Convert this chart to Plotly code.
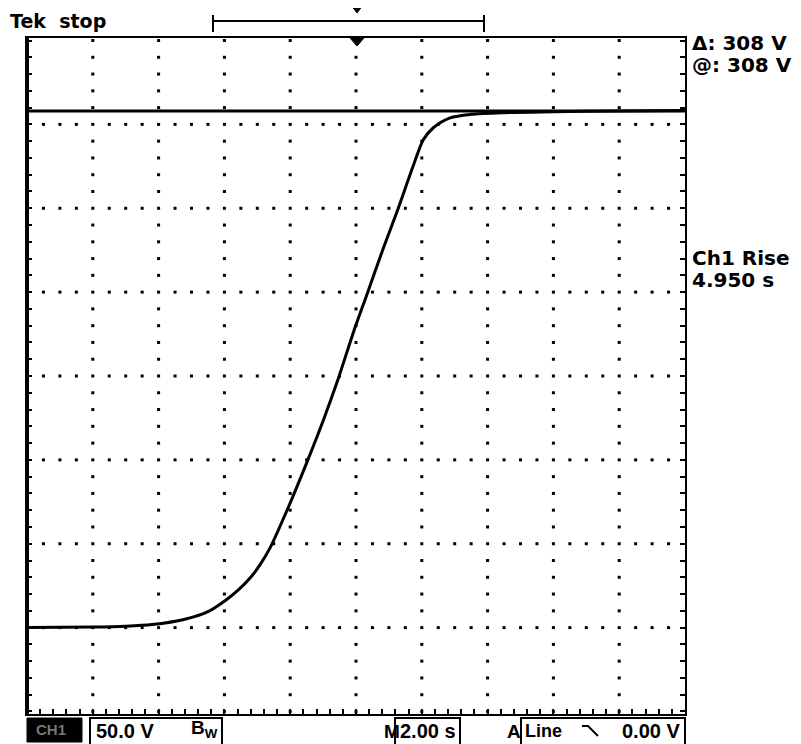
import plotly.graph_objects as go

time_s = [-10, -8, -7, -6.2, -5.2, -4.5, -3.95, -3.6, -3.2, -2.9, -2.6, -2.06, -1.50,
          -0.99, -0.54, -0.08, 0.33, 0.83, 1.24, 1.74, 2.05, 2.35, 2.86, 3.5, 4.5, 6, 8, 10]
volts = [0, 0.3, 0.8, 1.8, 5.0, 9.5, 16.5, 22, 30, 38, 48, 71.6, 98.2,
         123.8, 148.4, 176.0, 198.5, 226.1, 247.6, 275.3, 291.0, 298.0, 303.9, 306, 307, 307.5, 308, 308.3]
cursor_v = 308
volts_per_div = 50
sec_per_div = 2
x_range = [-10, 10]
y_range = [-51.5, 351.5]
grid_cols = [-8, -6, -4, -2, 0, 2, 4, 6, 8]
grid_rows = [0, 50, 100, 150, 200, 250, 300]

# the page body adds an 8px margin, so the figure is 8px smaller
OFF = 8
W, H = 801 - OFF, 744 - OFF
L, R, T, B = 27, 685, 38, 714   # plot frame, in screen pixels


def px(x):
    return (x - L) / (R - L)


def py(y):
    return (B - y) / (B - T)


fig = go.Figure()

# graticule dots: columns (1/5 div), rows (1/4 div)
cx, cy = [], []
for c in grid_cols:
    v = -50
    while v <= 350:
        cx.append(c)
        cy.append(v)
        v += volts_per_div / 5
rx, ry = [], []
for r in grid_rows:
    t = x_range[0] + sec_per_div / 4
    while t < x_range[1] - 1e-9:
        if abs(t - round(t / sec_per_div) * sec_per_div) > 1e-6:
            rx.append(t)
            ry.append(r)
        t += sec_per_div / 4
fig.add_trace(go.Scatter(x=cx + rx, y=cy + ry, mode="markers",
                         marker=dict(symbol="square", size=3, color="black"),
                         hoverinfo="skip", showlegend=False))

# cursor line
fig.add_trace(go.Scatter(x=x_range, y=[cursor_v, cursor_v], mode="lines",
                         line=dict(color="black", width=3), showlegend=False))
# waveform
fig.add_trace(go.Scatter(x=time_s, y=volts, mode="lines",
                         line=dict(color="black", width=3, shape="spline", smoothing=0.8),
                         showlegend=False))

shapes = []
# thick left frame
shapes.append(dict(type="line", xref="paper", yref="paper", x0=0, x1=0, y0=0, y1=1,
                   line=dict(color="black", width=4)))
# record bracket
shapes.append(dict(type="line", xref="paper", yref="paper", x0=px(213), x1=px(484),
                   y0=py(21), y1=py(21), line=dict(color="black", width=2)))
for xb in (213, 484):
    shapes.append(dict(type="line", xref="paper", yref="paper", x0=px(xb), x1=px(xb),
                       y0=py(15), y1=py(32), line=dict(color="black", width=2)))


def tri(xc, ytop, w, h):
    return dict(type="path", xref="paper", yref="paper", fillcolor="black",
                line=dict(color="black", width=1),
                path=f"M {px(xc - w / 2)},{py(ytop)} L {px(xc + w / 2)},{py(ytop)} L {px(xc)},{py(ytop + h)} Z")


shapes.append(tri(357, 7, 9, 6))
shapes.append(tri(357, 38, 14, 8))

# bottom status bar
shapes.append(dict(type="rect", xref="paper", yref="paper", x0=px(27), x1=px(82),
                   y0=py(742), y1=py(718), fillcolor="black", line=dict(color="black", width=1)))
for x0, x1 in ((90, 222), (395, 460), (521, 685)):
    shapes.append(dict(type="rect", xref="paper", yref="paper", x0=px(x0), x1=px(x1),
                       y0=py(746), y1=py(718), line=dict(color="black", width=2)))
# falling edge symbol
shapes.append(dict(type="path", xref="paper", yref="paper", line=dict(color="black", width=2),
                   path=f"M {px(582)},{py(726)} L {px(588)},{py(726)} L {px(598)},{py(736)}"))

ann = []
SANS = "Liberation Sans, Arial, sans-serif"
WIDE = "DejaVu Sans, Liberation Sans, sans-serif"


def text(s, x, y, size=18, color="black", family=SANS, xanchor="left"):
    ann.append(dict(text=s, xref="paper", yref="paper", x=px(x), y=py(y), xanchor=xanchor,
                    yanchor="middle", showarrow=False,
                    font=dict(family=family, size=size, color=color)))


text("<b>Tek  stop</b>", 8, 21, 19, family=WIDE)
text("<b>Δ: 308 V</b>", 690, 43, 20, family=WIDE)
text("<b>@: 308 V</b>", 690, 65, 20, family=WIDE)
text("<b>Ch1 Rise</b>", 690, 258, 20, family=WIDE)
text("<b>4.950 s</b>", 690, 280, 20, family=WIDE)
text("<b>CH1</b>", 34, 730, 15, "#777")
text("<b>50.0 V</b>", 94, 731, 20)
text("<b>B<sub>W</sub></b>", 189, 729, 19)
text("<b>M</b>", 382, 731, 19)
text("<b>2.00 s</b>", 398, 731, 20)
text("<b>A</b>", 505, 731, 19)
text("<b>Line</b>", 523, 731, 18)
text("<b>0.00 V</b>", 620, 731, 20)

fig.update_layout(
    width=W, height=H, paper_bgcolor="white", plot_bgcolor="white",
    margin=dict(l=L - OFF, r=801 - R, t=T - OFF, b=744 - B),
    shapes=shapes, annotations=ann, showlegend=False,
    xaxis=dict(range=x_range, showgrid=False, zeroline=False, showticklabels=False,
               showline=True, linecolor="black", linewidth=2, mirror=True,
               ticks="inside", ticklen=5, tickwidth=2, tickcolor="black",
               tick0=0, dtick=sec_per_div / 5),
    yaxis=dict(range=y_range, showgrid=False, zeroline=False, showticklabels=False,
               showline=True, linecolor="black", linewidth=2, mirror="ticks",
               ticks="inside", ticklen=5, tickwidth=2, tickcolor="black",
               tick0=0, dtick=volts_per_div / 5),
)

fig.write_html("out.html")
